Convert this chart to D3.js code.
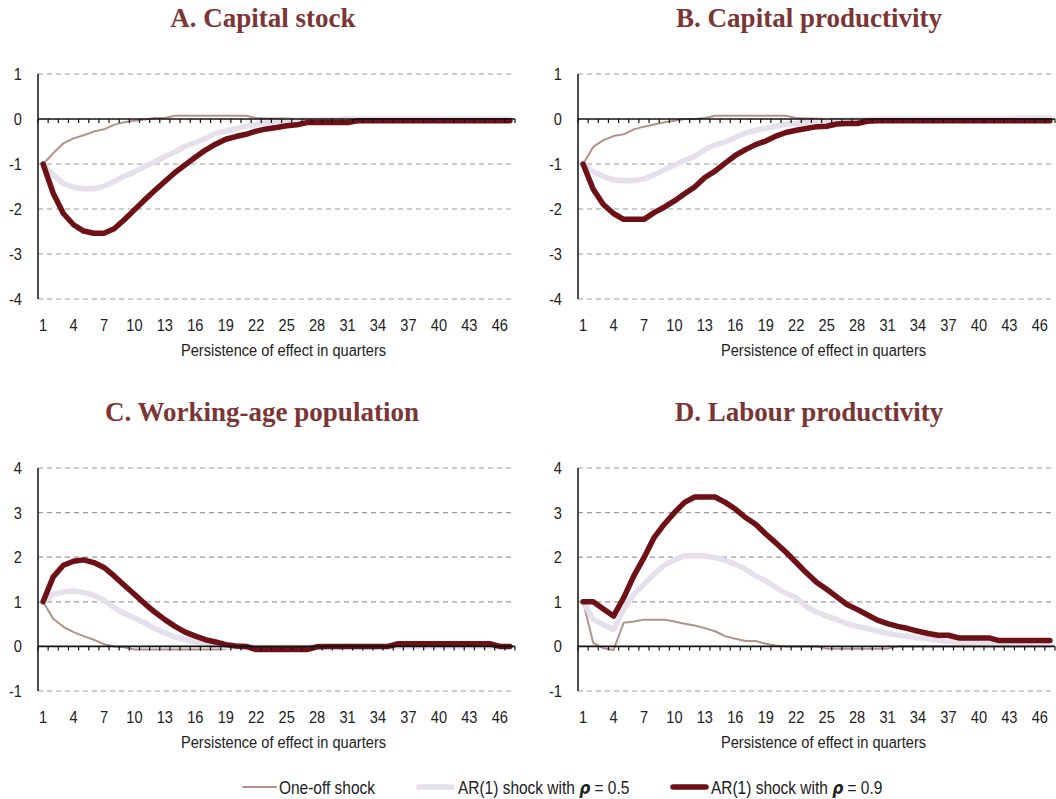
<!DOCTYPE html>
<html>
<head>
<meta charset="utf-8">
<script src="https://cdn.jsdelivr.net/npm/d3@7"></script>
<style>
  body { margin: 0; background: #fff; }
  svg text { font-family: "Liberation Sans", Arial, sans-serif; fill: #222; }
  .title { font-family: "Liberation Serif", "DejaVu Serif", serif !important; font-weight: bold; font-size: 27px; fill: #7b3535 !important; }
  .tick-label { font-size: 17px; }
  .axis-title { font-size: 17px; }
  .grid { stroke: #999; stroke-dasharray: 5,4; stroke-width: 1.2; }
  .legend text { font-size: 18px; }
</style>
</head>
<body>
<div id="chart"></div>
<script>
// quarters 1..47
const quarters = d3.range(1, 48);
const xTickLabels = [1, 4, 7, 10, 13, 16, 19, 22, 25, 28, 31, 34, 37, 40, 43, 46];

const seriesNames = ["One-off shock", "AR(1) shock with ρ = 0.5", "AR(1) shock with ρ = 0.9"];

// A. Capital stock
const capitalOneOff = [-1.0, -0.76, -0.54, -0.43, -0.36, -0.28, -0.23, -0.13, -0.07, -0.04,
  -0.01, 0.02, 0.02, 0.07, 0.07, 0.07, 0.07, 0.07, 0.07, 0.07, 0.07, 0.02, 0.01, 0.01, 0.01,
  0, 0, 0, 0, 0, 0, 0, 0, 0, 0, 0, 0, 0, 0, 0, 0, 0, 0, 0, 0, 0, 0];
const capitalAr05 = [-1.0, -1.24, -1.43, -1.52, -1.55, -1.55, -1.49, -1.39, -1.27, -1.17,
  -1.06, -0.95, -0.84, -0.73, -0.61, -0.53, -0.43, -0.32, -0.27, -0.21, -0.17, -0.12, -0.08,
  -0.05, -0.04, -0.03, -0.02, -0.02, -0.01, -0.01, 0, 0, 0, 0, 0, 0, 0, 0, 0, 0, 0, 0, 0, 0, 0, 0, 0];
const capitalAr09 = [-1.0, -1.65, -2.1, -2.35, -2.49, -2.54, -2.54, -2.44, -2.24, -2.02,
  -1.8, -1.59, -1.39, -1.19, -1.02, -0.85, -0.69, -0.56, -0.45, -0.39, -0.34, -0.27, -0.22,
  -0.19, -0.15, -0.13, -0.08, -0.08, -0.08, -0.08, -0.08, -0.04, -0.04, -0.04, -0.04, -0.04,
  -0.04, -0.04, -0.04, -0.04, -0.04, -0.04, -0.04, -0.04, -0.04, -0.04, -0.04];

// B. Capital productivity
const capProdOneOff = [-1.0, -0.62, -0.47, -0.38, -0.34, -0.23, -0.17, -0.12, -0.07, -0.04,
  0, 0, 0.02, 0.07, 0.07, 0.07, 0.07, 0.07, 0.07, 0.07, 0.07, 0.02, 0.01, 0.01, 0,
  0, 0, 0, 0, 0, 0, 0, 0, 0, 0, 0, 0, 0, 0, 0, 0, 0, 0, 0, 0, 0, 0];
const capProdAr05 = [-1.0, -1.18, -1.28, -1.35, -1.37, -1.37, -1.33, -1.24, -1.13, -1.03,
  -0.92, -0.83, -0.68, -0.58, -0.51, -0.41, -0.31, -0.25, -0.21, -0.16, -0.11, -0.1, -0.07,
  -0.04, -0.03, -0.02, -0.02, -0.01, -0.01, 0, 0, 0, 0, 0, 0, 0, 0, 0, 0, 0, 0, 0, 0,
  0.02, 0.02, 0.02, 0.02];
const capProdAr09 = [-1.0, -1.56, -1.9, -2.1, -2.23, -2.23, -2.23, -2.08, -1.96, -1.82,
  -1.66, -1.51, -1.3, -1.16, -0.98, -0.81, -0.68, -0.57, -0.49, -0.38, -0.3, -0.25, -0.21,
  -0.17, -0.16, -0.11, -0.1, -0.1, -0.05, -0.04, -0.04, -0.04, -0.04, -0.04, -0.04, -0.04,
  -0.04, -0.04, -0.04, -0.04, -0.04, -0.04, -0.04, -0.04, -0.04, -0.04, -0.04];

// C. Working-age population
const popOneOff = [1.0, 0.62, 0.44, 0.32, 0.23, 0.15, 0.05, 0, -0.02, -0.07,
  -0.07, -0.07, -0.07, -0.07, -0.07, -0.07, -0.07, -0.07, -0.05, 0, 0, 0, 0, 0, 0,
  0, 0, 0, 0, 0, 0, 0, 0, 0, 0, 0, 0, 0, 0, 0, 0, 0, 0, 0, 0, 0, 0];
const popAr05 = [1.0, 1.17, 1.22, 1.24, 1.21, 1.15, 1.04, 0.87, 0.74, 0.64,
  0.53, 0.4, 0.3, 0.21, 0.15, 0.1, 0.05, 0.02, 0, -0.02, -0.02, -0.02, -0.02, -0.02, -0.02,
  -0.02, -0.02, 0, 0, 0, 0, 0, 0, 0, 0, 0, 0, 0, 0, 0, 0, 0, 0, 0, 0, 0, 0];
const popAr09 = [1.0, 1.56, 1.82, 1.91, 1.94, 1.88, 1.77, 1.58, 1.37, 1.17,
  0.96, 0.77, 0.6, 0.45, 0.32, 0.23, 0.15, 0.1, 0.04, 0.01, 0, -0.07, -0.07, -0.07, -0.07,
  -0.07, -0.07, -0.01, 0, 0, 0, 0, 0, 0, 0, 0.06, 0.06, 0.06, 0.06, 0.06, 0.06, 0.06, 0.06,
  0.06, 0.06, 0, 0];

// D. Labour productivity
const labProdOneOff = [1.0, 0.08, -0.04, -0.08, 0.53, 0.56, 0.6, 0.6, 0.6, 0.56,
  0.51, 0.47, 0.41, 0.34, 0.23, 0.17, 0.12, 0.12, 0.06, 0.02, 0, 0, 0, 0, -0.05,
  -0.05, -0.05, -0.05, -0.05, -0.05, -0.05, 0, 0, 0, 0, 0, 0, 0, 0, 0, 0, 0, 0, 0, 0, 0, 0];
const labProdAr05 = [1.0, 0.6, 0.49, 0.38, 0.83, 1.17, 1.39, 1.62, 1.82, 1.94,
  2.03, 2.03, 2.03, 1.99, 1.93, 1.84, 1.73, 1.58, 1.47, 1.32, 1.19, 1.09, 0.89, 0.77, 0.68,
  0.6, 0.51, 0.45, 0.4, 0.34, 0.3, 0.25, 0.23, 0.19, 0.17, 0.14, 0.11, 0.1, 0.08, 0.07,
  0.06, 0.05, 0.05, 0.04, 0.04, 0.03, 0.03];
const labProdAr09 = [1.0, 1.0, 0.84, 0.68, 1.09, 1.58, 1.99, 2.44, 2.74, 3.0,
  3.23, 3.35, 3.35, 3.35, 3.23, 3.08, 2.89, 2.74, 2.52, 2.32, 2.11, 1.88, 1.65, 1.44, 1.28,
  1.11, 0.94, 0.83, 0.71, 0.59, 0.51, 0.45, 0.4, 0.34, 0.29, 0.25, 0.25, 0.19, 0.19, 0.19,
  0.19, 0.13, 0.13, 0.13, 0.13, 0.13, 0.13];

const seriesColors = ["#b39189", "#e5e0eb", "#6e1116"];
const seriesWidths = [2, 5.5, 5.5];

const panels = [
  { title: "A. Capital stock", titleX: 263, yDomain: [-4, 1], series: [capitalOneOff, capitalAr05, capitalAr09],
    left: 38, right: 515, top: 74, bottom: 299 },
  { title: "B. Capital productivity", titleX: 809, yDomain: [-4, 1], series: [capProdOneOff, capProdAr05, capProdAr09],
    left: 578, right: 1055, top: 74, bottom: 299 },
  { title: "C. Working-age population", titleX: 262, yDomain: [-1, 4], series: [popOneOff, popAr05, popAr09],
    left: 38, right: 515, top: 468, bottom: 691 },
  { title: "D. Labour productivity", titleX: 809, yDomain: [-1, 4], series: [labProdOneOff, labProdAr05, labProdAr09],
    left: 578, right: 1055, top: 468, bottom: 691 }
];

// the reference uses a condensed sans; squeeze Liberation Sans horizontally
const narrow = 0.86;
function placeNarrow(sel, x, y) {
  sel.attr("transform", (d, i) => {
    const px = typeof x === "function" ? x(d, i) : x;
    const py = typeof y === "function" ? y(d, i) : y;
    return `translate(${px},${py}) scale(${narrow},1)`;
  });
}

const svg = d3.select("#chart").append("svg")
  .attr("width", 1056).attr("height", 799);

panels.forEach((p) => {
  const g = svg.append("g");

  const x = d3.scaleBand().domain(quarters).range([p.left, p.right]);
  const y = d3.scaleLinear().domain(p.yDomain).range([p.bottom, p.top]);
  const yTicks = d3.range(p.yDomain[0], p.yDomain[1] + 1);

  // title
  g.append("text")
    .attr("class", "title")
    .attr("x", p.titleX)
    .attr("y", p.top - 47)
    .attr("text-anchor", "middle")
    .text(p.title);

  // dashed gridlines (not at zero)
  g.selectAll(".grid")
    .data(yTicks.filter((d) => d !== 0))
    .enter().append("line")
    .attr("class", "grid")
    .attr("x1", p.left).attr("x2", p.right)
    .attr("y1", (d) => y(d)).attr("y2", (d) => y(d));

  // y tick labels
  g.selectAll(".ylab")
    .data(yTicks)
    .enter().append("text")
    .attr("class", "tick-label")
    .attr("dy", "0.35em")
    .attr("text-anchor", "end")
    .text((d) => d)
    .call(placeNarrow, p.left - 16, (d) => y(d));

  // x tick labels at the bottom of the plot
  g.selectAll(".xlab")
    .data(xTickLabels)
    .enter().append("text")
    .attr("class", "tick-label")
    .attr("text-anchor", "middle")
    .text((d) => d)
    .call(placeNarrow, (d) => x(d) + x.bandwidth() / 2, p.bottom + 32);

  g.append("text")
    .attr("class", "axis-title")
    .attr("text-anchor", "middle")
    .text("Persistence of effect in quarters")
    .call(placeNarrow, p.left + (p.right - p.left) / 2 + 7, p.bottom + 57);

  // series lines
  p.series.forEach((vals, si) => {
    const line = d3.line()
      .x((d, i) => x(quarters[i]) + x.bandwidth() / 2)
      .y((d) => y(d));
    g.append("path")
      .datum(vals)
      .attr("fill", "none")
      .attr("stroke", seriesColors[si])
      .attr("stroke-width", seriesWidths[si])
      .attr("stroke-linejoin", "round")
      .attr("stroke-linecap", "round")
      .attr("d", line);
  });

  // zero axis with category ticks pointing down
  const xAxis = d3.axisBottom(x).tickSize(4).tickFormat("");
  const zeroAxis = g.append("g")
    .attr("transform", `translate(0,${y(0)})`)
    .call(xAxis);
  zeroAxis.select(".domain").attr("d", `M${p.left},0H${p.right}`).attr("stroke", "#111").attr("stroke-width", 1.6);
  zeroAxis.selectAll(".tick line").attr("stroke", "#111").attr("stroke-width", 1.2)
    .attr("transform", `translate(${-x.bandwidth() / 2},0)`);
  zeroAxis.append("line")
    .attr("x1", p.right).attr("x2", p.right).attr("y1", 0).attr("y2", 4)
    .attr("stroke", "#111").attr("stroke-width", 1.2);

  // y axis line
  g.append("line")
    .attr("x1", p.left).attr("x2", p.left)
    .attr("y1", p.top).attr("y2", p.bottom)
    .attr("stroke", "#111").attr("stroke-width", 1.5);
});

// legend
const legendItems = [
  { x: 243, textX: 279 },
  { x: 419, textX: 458 },
  { x: 673, textX: 711 }
];
const legend = svg.append("g").attr("class", "legend");
legendItems.forEach((item, i) => {
  legend.append("line")
    .attr("x1", item.x).attr("x2", item.x + 33)
    .attr("y1", 787).attr("y2", 787)
    .attr("stroke", seriesColors[i])
    .attr("stroke-width", seriesWidths[i])
    .attr("stroke-linecap", "round");
  const t = legend.append("text").call(placeNarrow, item.textX, 794);
  if (i === 0) {
    t.text(seriesNames[0]);
  } else {
    const parts = seriesNames[i].split("ρ");
    t.append("tspan").text(parts[0]);
    t.append("tspan").attr("font-weight", "bold").attr("font-style", "italic")
      .attr("font-family", "DejaVu Sans, sans-serif").attr("font-size", 18).text("ρ");
    t.append("tspan").text(parts[1]);
  }
});
</script>
</body>
</html>
